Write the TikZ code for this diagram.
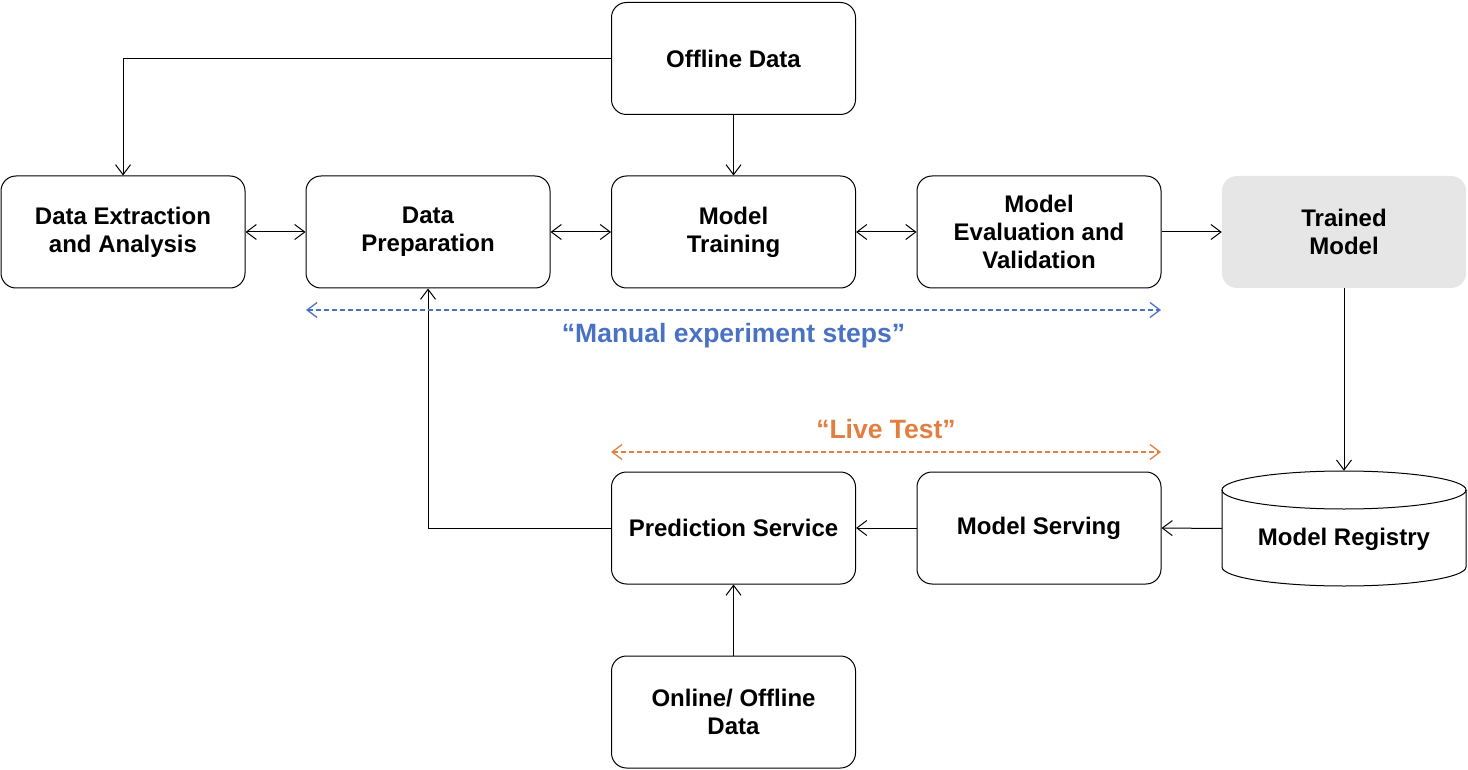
\documentclass[tikz,border=0pt]{standalone}
\usepackage{fontspec}
\setmainfont{Liberation Sans}
\usetikzlibrary{arrows.meta}
\definecolor{manblue}{HTML}{4A72C4}
\definecolor{liveorange}{HTML}{E27F40}
\definecolor{trgray}{HTML}{E6E6E6}
\begin{document}
\begin{tikzpicture}[x=1pt,y=-1pt,
  box/.style={draw=black,line width=1pt,rounded corners=15pt,minimum width=244pt,minimum height=112pt,
    align=center,font=\fontsize{24}{28}\selectfont\bfseries,inner sep=0pt},
  plainbox/.style={minimum width=244pt,minimum height=112pt,align=center,
    font=\fontsize{24}{28}\selectfont\bfseries,inner sep=0pt},
  conn/.style={line width=1pt,-{Straight Barb[length=10pt,width=15pt,line width=1pt]}},
  bconn/.style={line width=1pt,{Straight Barb[length=10pt,width=15pt,line width=1pt]}-{Straight Barb[length=10pt,width=15pt,line width=1pt]}},
  dconn/.style={line width=1.3pt,dash pattern=on 5pt off 3pt,{Straight Barb[length=10pt,width=15pt,line width=1.3pt]}-{Straight Barb[length=10pt,width=15pt,line width=1.3pt]}},
  lbl/.style={font=\fontsize{26.5}{30}\selectfont\bfseries}]
\useasboundingbox (0,0) rectangle (1468,770);
\node[box] (off) at (733.5,58.5) {Offline Data};
\node[box] (dea) at (123,232) {Data Extraction\\and Analysis};
\node[box] (dp) at (428,232) {Data\\Preparation};
\node[box] (mt) at (733.5,232) {Model\\Training};
\node[box] (me) at (1039,232) {Model\\Evaluation and\\Validation};
\node[plainbox,fill=trgray,rounded corners=15pt] (tm) at (1344,232) {Trained\\Model};
\node[box] (ps) at (733.5,528) {Prediction Service};
\node[box] (ms) at (1039,528) {Model Serving};
\node[box] (od) at (733.5,712) {Online/ Offline\\Data};
% cylinder
\node[plainbox,minimum height=115pt] (reg) at (1344,528.5) {};
\draw[line width=1pt] (1222,490) -- (1222,567) arc[start angle=180,end angle=0,x radius=122,y radius=19] -- (1466,490);
\draw[line width=1pt] (1344,490) ellipse[x radius=122,y radius=19];
\node[font=\fontsize{24}{28}\selectfont\bfseries] (regt) at (1344,539) {Model Registry};
% connectors
\draw[conn] (off.west) -| (dea.north);
\draw[conn] (off.south) -- (mt.north);
\draw[bconn] (dea.east) -- (dp.west);
\draw[bconn] (dp.east) -- (mt.west);
\draw[bconn] (mt.east) -- (me.west);
\draw[conn] (me.east) -- (tm.west);
\draw[conn] (tm.south) -- (reg.north);
\draw[conn] (reg.west) -- (ms.east);
\draw[conn] (ms.west) -- (ps.east);
\draw[conn] (ps.west) -| (dp.south);
\draw[conn] (od.north) -- (ps.south);
% dashed spans
\coordinate (ma) at (306,310);
\coordinate (mb) at (1161,310);
\draw[dconn,manblue] (ma) -- (mb);
\node[lbl,text=manblue] (mlab) at (733.5,336) {“Manual experiment steps”};
\coordinate (la) at (611,452);
\coordinate (lb) at (1161,452);
\draw[dconn,liveorange] (la) -- (lb);
\node[lbl,text=liveorange] (llab) at (886,429) {“Live Test”};
\end{tikzpicture}
\end{document}
